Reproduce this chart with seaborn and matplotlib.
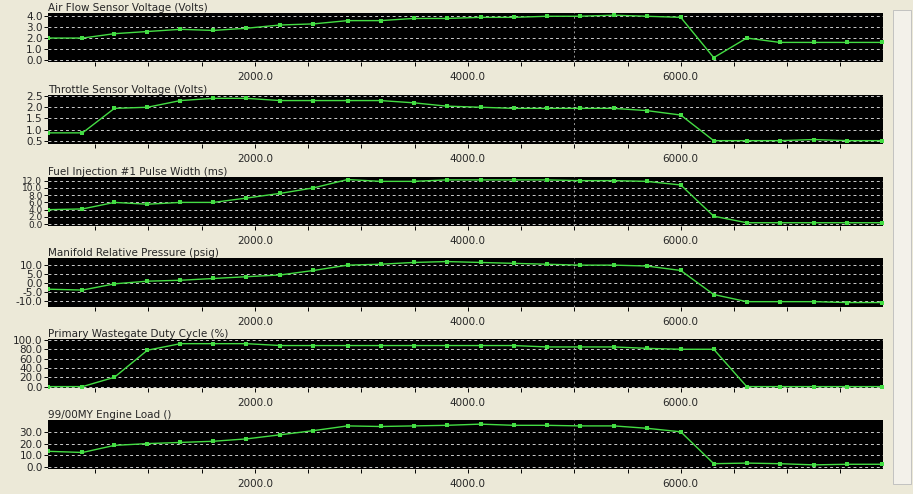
import matplotlib
matplotlib.use('Agg')
from matplotlib import pyplot as plt
import numpy as np
import seaborn as sns

rpm = [56, 380, 680, 990, 1300, 1610, 1920, 2240, 2550, 2870, 3180, 3490, 3800,
       4120, 4430, 4740, 5050, 5370, 5680, 6000, 6310, 6620, 6930, 7250, 7560, 7890]

air_flow = [2.0, 2.0, 2.4, 2.6, 2.8, 2.7, 2.9, 3.2, 3.3, 3.6, 3.6, 3.8, 3.8,
            3.9, 3.9, 4.0, 4.0, 4.1, 4.0, 3.9, 0.2, 2.0, 1.6, 1.6, 1.6, 1.6]
throttle = [0.85, 0.85, 1.95, 2.0, 2.3, 2.4, 2.4, 2.3, 2.3, 2.3, 2.3, 2.2, 2.05,
            2.0, 1.95, 1.95, 1.95, 1.95, 1.85, 1.65, 0.5, 0.5, 0.5, 0.55, 0.5, 0.5]
fuel_pw = [4.0, 4.2, 6.0, 5.5, 6.0, 6.0, 7.2, 8.5, 10.0, 12.3, 11.8, 11.8, 12.2,
           12.2, 12.2, 12.2, 12.0, 12.0, 11.8, 10.8, 2.2, 0.4, 0.4, 0.4, 0.4, 0.4]
manifold = [-3.5, -4.0, -0.5, 1.0, 1.5, 2.5, 3.5, 4.5, 7.0, 10.0, 10.5, 11.5, 12.0,
            11.5, 11.0, 10.5, 10.0, 10.0, 9.5, 7.0, -6.5, -10.5, -10.5, -10.5, -11.0, -11.0]
wastegate = [0, 0, 20, 78, 92, 92, 92, 88, 88, 88, 88, 88, 88,
             88, 88, 85, 85, 85, 82, 80, 80, 0, 0, 0, 0, 0]
engine_load = [13.5, 12.5, 18.5, 20, 21, 22, 24, 27.5, 31, 35, 34.5, 35, 35.5,
               36.5, 35.5, 35.5, 35, 35, 33, 30, 3, 3.5, 3, 2, 2.5, 2.5]

titles = ['Air Flow Sensor Voltage (Volts)', 'Throttle Sensor Voltage (Volts)',
          'Fuel Injection #1 Pulse Width (ms)', 'Manifold Relative Pressure (psig)',
          'Primary Wastegate Duty Cycle (%)', '99/00MY Engine Load ()']
series = [air_flow, throttle, fuel_pw, manifold, wastegate, engine_load]
yticks = [[0, 1, 2, 3, 4], [0.5, 1.0, 1.5, 2.0, 2.5], [0, 2, 4, 6, 8, 10, 12],
          [-10, -5, 0, 5, 10], [0, 20, 40, 60, 80, 100], [0, 10, 20, 30]]
ylims = [(-0.2, 4.3), (0.35, 2.55), (-0.5, 13.0), (-13.5, 14.0), (-3, 102), (-1.5, 40)]

sns.set_style("dark")
fig = plt.figure(figsize=(9.13, 4.94), dpi=100, facecolor='#ECE9D8')
tops = [13, 95, 177, 258, 339, 420]
for i, (t, y) in enumerate(zip(titles, series)):
    ax = fig.add_axes([48 / 913, 1 - (tops[i] + 49) / 494, 835 / 913, 49 / 494])
    ax.set_facecolor('black')
    for yy in yticks[i]:
        ax.axhline(yy, color='#cccccc', ls=(0, (3, 3)), lw=0.7)
    ax.axvline(5000, color='#999999', ls=(0, (2, 3)), lw=0.7)
    sns.lineplot(x=rpm, y=y, ax=ax, color='#44dd44', lw=1, marker='s', ms=2.5,
                 markeredgewidth=0)
    ax.set_xlim(56, 7900)
    ax.set_ylim(*ylims[i])
    ax.set_yticks(yticks[i])
    yfs = 6.5 if len(yticks[i]) > 6 else 7.5
    ax.set_yticklabels([f'{v:.1f}' for v in yticks[i]], fontsize=yfs)
    ax.set_xticks([2000, 4000, 6000])
    ax.set_xticklabels(['2000.0', '4000.0', '6000.0'], fontsize=7.5)
    ax.set_xticks(np.arange(500, 7900, 500), minor=True)
    ax.tick_params(axis='both', which='both', direction='out', length=3, width=0.7,
                   color='black', pad=1, bottom=True, left=True)
    ax.tick_params(axis='x', which='major', pad=4)
    for s in ax.spines.values():
        s.set_visible(False)
    ax.set_xlabel('')
    ax.set_ylabel('')
    ax.text(0, 1.01, t, transform=ax.transAxes, fontsize=7.5, va='bottom', ha='left')

fig.patches.append(plt.Rectangle((893 / 913, 0.02), 18 / 913, 0.96, transform=fig.transFigure,
                                 facecolor='#F3F1EA', edgecolor='#bbbbbb', lw=0.6))
plt.savefig('out.png', dpi=100, facecolor=fig.get_facecolor())
